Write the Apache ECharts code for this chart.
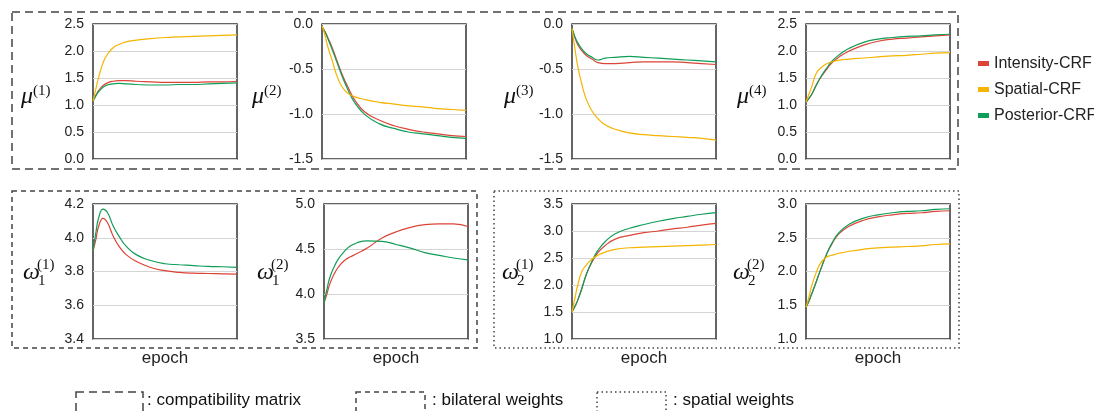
<!DOCTYPE html>
<html>
<head>
<meta charset="utf-8">
<script src="https://cdn.jsdelivr.net/npm/echarts@6/dist/echarts.min.js"></script>
<style>
  html, body { margin: 0; padding: 0; background: #fff; }
  #chart { width: 1094px; height: 411px; }
</style>
</head>
<body>
<div id="chart"></div>
<script>
var epochs = [0, 2, 4, 7, 10, 14, 18, 23, 30, 40, 50, 60, 70, 80, 90, 100]
var seriesNames = ["Intensity-CRF", "Spatial-CRF", "Posterior-CRF"]

// mu^(1)
var mu1Intensity = [1.07, 1.18, 1.27, 1.36, 1.41, 1.44, 1.45, 1.45, 1.44, 1.43, 1.42, 1.42, 1.42, 1.43, 1.43, 1.44]
var mu1Spatial = [1.07, 1.30, 1.52, 1.78, 1.94, 2.06, 2.12, 2.17, 2.20, 2.23, 2.25, 2.26, 2.27, 2.28, 2.29, 2.30]
var mu1Posterior = [1.07, 1.17, 1.25, 1.33, 1.37, 1.39, 1.40, 1.39, 1.38, 1.37, 1.37, 1.38, 1.38, 1.39, 1.40, 1.41]
// mu^(2)
var mu2Intensity = [-0.03, -0.08, -0.15, -0.26, -0.39, -0.56, -0.70, -0.85, -0.98, -1.07, -1.13, -1.17, -1.20, -1.22, -1.24, -1.25]
var mu2Spatial = [-0.02, -0.12, -0.25, -0.40, -0.56, -0.70, -0.77, -0.81, -0.84, -0.87, -0.89, -0.91, -0.92, -0.94, -0.95, -0.96]
var mu2Posterior = [-0.03, -0.09, -0.16, -0.28, -0.41, -0.58, -0.73, -0.88, -1.01, -1.11, -1.16, -1.20, -1.22, -1.24, -1.26, -1.27]
// mu^(3)
var mu3Intensity = [-0.05, -0.15, -0.23, -0.30, -0.35, -0.39, -0.43, -0.44, -0.44, -0.43, -0.42, -0.42, -0.42, -0.43, -0.44, -0.45]
var mu3Spatial = [-0.05, -0.27, -0.47, -0.68, -0.84, -0.97, -1.05, -1.12, -1.17, -1.21, -1.23, -1.24, -1.25, -1.26, -1.27, -1.29]
var mu3Posterior = [-0.05, -0.14, -0.21, -0.28, -0.33, -0.37, -0.40, -0.38, -0.37, -0.36, -0.37, -0.38, -0.39, -0.40, -0.41, -0.42]
// mu^(4)
var mu4Intensity = [1.05, 1.12, 1.20, 1.36, 1.50, 1.65, 1.78, 1.89, 2.00, 2.11, 2.18, 2.22, 2.24, 2.26, 2.28, 2.30]
var mu4Spatial = [1.05, 1.20, 1.34, 1.58, 1.68, 1.76, 1.80, 1.83, 1.85, 1.87, 1.89, 1.91, 1.92, 1.94, 1.96, 1.97]
var mu4Posterior = [1.05, 1.12, 1.20, 1.36, 1.51, 1.67, 1.81, 1.93, 2.05, 2.16, 2.22, 2.25, 2.27, 2.28, 2.30, 2.31]
// omega_1^(1)
var w11Intensity = [3.92, 3.99, 4.07, 4.115, 4.09, 4.01, 3.95, 3.90, 3.86, 3.824, 3.805, 3.795, 3.79, 3.788, 3.786, 3.784]
var w11Posterior = [3.92, 4.03, 4.12, 4.17, 4.15, 4.07, 4.01, 3.95, 3.90, 3.865, 3.846, 3.84, 3.835, 3.83, 3.828, 3.825]
// omega_1^(2)
var w12Intensity = [3.90, 4.00, 4.11, 4.22, 4.30, 4.37, 4.41, 4.45, 4.51, 4.62, 4.69, 4.74, 4.77, 4.78, 4.78, 4.75]
var w12Posterior = [3.90, 4.05, 4.18, 4.30, 4.39, 4.47, 4.53, 4.57, 4.59, 4.585, 4.55, 4.51, 4.46, 4.43, 4.40, 4.38]
// omega_2^(1)
var w21Intensity = [1.50, 1.60, 1.72, 1.95, 2.20, 2.43, 2.60, 2.73, 2.85, 2.92, 2.97, 3.00, 3.04, 3.07, 3.11, 3.14]
var w21Spatial = [1.50, 1.75, 2.00, 2.26, 2.37, 2.48, 2.55, 2.61, 2.66, 2.69, 2.70, 2.71, 2.72, 2.73, 2.74, 2.75]
var w21Posterior = [1.50, 1.60, 1.72, 1.95, 2.20, 2.45, 2.64, 2.80, 2.95, 3.05, 3.12, 3.18, 3.23, 3.27, 3.31, 3.34]
// omega_2^(2)
var w22Intensity = [1.47, 1.56, 1.67, 1.84, 2.02, 2.24, 2.41, 2.56, 2.67, 2.76, 2.81, 2.84, 2.86, 2.87, 2.89, 2.90]
var w22Spatial = [1.47, 1.62, 1.79, 1.98, 2.12, 2.21, 2.24, 2.27, 2.30, 2.33, 2.35, 2.36, 2.37, 2.38, 2.40, 2.41]
var w22Posterior = [1.47, 1.56, 1.67, 1.84, 2.02, 2.24, 2.42, 2.58, 2.70, 2.79, 2.84, 2.87, 2.89, 2.90, 2.92, 2.93]

var yMins = [0, -1.5, -1.5, 0, 3.4, 3.5, 1.0, 1.0]
var yMaxs = [2.5, 0, 0, 2.5, 4.2, 5.0, 3.5, 3.0]
var yIntervals = [0.5, 0.5, 0.5, 0.5, 0.2, 0.5, 0.5, 0.5]

var colors = ["#db4437", "#f4b400", "#0f9d58"]
var sans = "Liberation Sans"
var serif = "Liberation Serif"

var panels = [
    { left: 93, top: 24, data: [mu1Intensity, mu1Spatial, mu1Posterior], sym: "μ", sup: "(1)", lx: 21 },
    { left: 322, top: 24, data: [mu2Intensity, mu2Spatial, mu2Posterior], sym: "μ", sup: "(2)", lx: 252 },
    { left: 572, top: 24, data: [mu3Intensity, mu3Spatial, mu3Posterior], sym: "μ", sup: "(3)", lx: 504 },
    { left: 806, top: 24, data: [mu4Intensity, mu4Spatial, mu4Posterior], sym: "μ", sup: "(4)", lx: 737 },
    { left: 93, top: 204, data: [w11Intensity, null, w11Posterior], sym: "ω", sub: "1", sup: "(1)", lx: 23 },
    { left: 324, top: 204, data: [w12Intensity, null, w12Posterior], sym: "ω", sub: "1", sup: "(2)", lx: 257 },
    { left: 572, top: 204, data: [w21Intensity, w21Spatial, w21Posterior], sym: "ω", sub: "2", sup: "(1)", lx: 502 },
    { left: 806, top: 204, data: [w22Intensity, w22Spatial, w22Posterior], sym: "ω", sub: "2", sup: "(2)", lx: 733 }
]

var chart = echarts.init(document.getElementById("chart"))

var grids = [], xAxes = [], yAxes = [], series = [], graphics = []

panels.forEach(function (p, i) {
    grids.push({
        left: p.left, top: p.top, width: 144, height: 135,
        show: true, borderColor: "#333", borderWidth: 1.5, backgroundColor: "transparent"
    })
    xAxes.push({
        gridIndex: i, type: "value", min: 0, max: 100,
        axisLabel: { show: false }, axisTick: { show: false },
        axisLine: { show: false }, splitLine: { show: false },
        name: i >= 4 ? "epoch" : "",
        nameLocation: "middle", nameGap: 11,
        nameTextStyle: { fontSize: 17, color: "#222", fontFamily: sans, verticalAlign: "top" }
    })
    yAxes.push({
        gridIndex: i, type: "value",
        min: yMins[i], max: yMaxs[i], interval: yIntervals[i],
        axisLine: { show: false }, axisTick: { show: false },
        splitLine: { lineStyle: { color: "#d4d4d4", width: 1 } },
        axisLabel: {
            fontSize: 14, color: "#222", fontFamily: sans, margin: 9,
            formatter: function (v) { return v.toFixed(1) }
        }
    })
    p.data.forEach(function (arr, k) {
        if (!arr) return
        series.push({
            name: seriesNames[k], type: "line", xAxisIndex: i, yAxisIndex: i,
            data: epochs.map(function (e, j) { return [e, arr[j]] }),
            showSymbol: false, smooth: 0.5,
            color: colors[k],
            lineStyle: { width: 1.2, color: colors[k] },
            z: k === 1 ? 3 : 2
        })
    })

    // axis title: mu^(k) / omega_k^(k)
    var isTop = i < 4
    var baseY = isTop ? 97 : 273
    graphics.push({
        type: "text", left: p.lx, top: baseY - 12,
        style: { text: p.sym, font: "italic 24px " + serif, fill: "#111" }
    })
    var sx = p.lx + (isTop ? 12 : 14)
    graphics.push({
        type: "text", left: sx, top: isTop ? 84 : 258,
        style: { text: p.sup, font: "15px " + serif, fill: "#111" }
    })
    if (p.sub) {
        graphics.push({
            type: "text", left: sx + 1, top: 274,
            style: { text: p.sub, font: "15px " + serif, fill: "#111" }
        })
    }
})

// group frames
graphics.push(
    { type: "rect", shape: { x: 12, y: 12, width: 946, height: 157 },
      style: { fill: "none", stroke: "#444", lineWidth: 1.5, lineDash: [8, 5] } },
    { type: "rect", shape: { x: 12, y: 191, width: 465, height: 157 },
      style: { fill: "none", stroke: "#444", lineWidth: 1.5, lineDash: [5, 4] } },
    { type: "rect", shape: { x: 494, y: 191, width: 465, height: 157 },
      style: { fill: "none", stroke: "#444", lineWidth: 1.5, lineDash: [1.5, 3] } },
    // bottom key
    { type: "rect", shape: { x: 76, y: 392, width: 67, height: 40 },
      style: { fill: "none", stroke: "#444", lineWidth: 1.5, lineDash: [8, 5] } },
    { type: "text", left: 147, top: 392,
      style: { text: ": compatibility matrix", font: "17px " + sans, fill: "#111" } },
    { type: "rect", shape: { x: 356, y: 392, width: 69, height: 40 },
      style: { fill: "none", stroke: "#444", lineWidth: 1.5, lineDash: [5, 4] } },
    { type: "text", left: 432, top: 392,
      style: { text: ": bilateral weights", font: "17px " + sans, fill: "#111" } },
    { type: "rect", shape: { x: 597, y: 392, width: 69, height: 40 },
      style: { fill: "none", stroke: "#444", lineWidth: 1.5, lineDash: [1.5, 3] } },
    { type: "text", left: 673, top: 392,
      style: { text: ": spatial weights", font: "17px " + sans, fill: "#111" } }
)

var option = {
    animation: false,
    backgroundColor: "#fff",
    legend: {
        data: seriesNames,
        orient: "vertical", left: 978, top: 55, padding: 0,
        icon: "rect", itemWidth: 11, itemHeight: 5, itemGap: 9,
        textStyle: { fontSize: 16, color: "#222", fontFamily: sans, lineHeight: 17 }
    },
    grid: grids,
    xAxis: xAxes,
    yAxis: yAxes,
    series: series,
    graphic: graphics
}

chart.setOption(option)
</script>
</body>
</html>
